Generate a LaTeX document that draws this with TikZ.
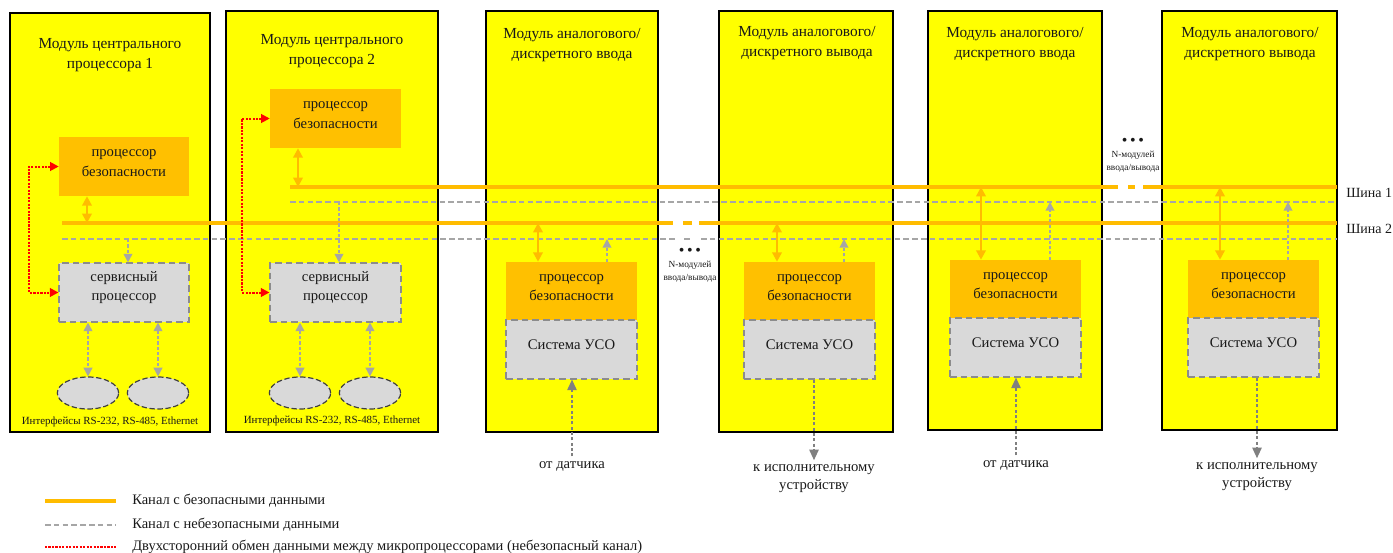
\documentclass[tikz,border=0pt]{standalone}
\usepackage{fontspec}
\setmainfont{Liberation Serif}
\usetikzlibrary{shapes.geometric, arrows.meta, positioning, fit, calc}
\definecolor{modyellow}{RGB}{255,255,0}
\definecolor{safeorange}{RGB}{255,192,0}
\definecolor{busorange}{RGB}{255,188,0}
\definecolor{boxgray}{RGB}{217,217,217}
\definecolor{edgegray}{RGB}{140,140,140}
\definecolor{busgray}{RGB}{166,166,166}
\definecolor{feedgray}{RGB}{128,128,128}
\definecolor{linkred}{RGB}{255,0,0}
\definecolor{txtdark}{RGB}{25,25,25}
\tikzset{
  module/.style={rectangle, draw=black, fill=modyellow, line width=0.8pt, inner sep=0pt},
  safebox/.style={rectangle, fill=safeorange, inner sep=0pt, align=center,
    text=txtdark, font=\fontsize{11}{14.5}\selectfont},
  servbox/.style={rectangle, draw=edgegray, fill=boxgray, line width=0.8pt,
    dash pattern=on 5pt off 3pt, inner sep=0pt, align=center,
    text=txtdark, font=\fontsize{11}{14.5}\selectfont},
  iface/.style={ellipse, draw=black!75, fill=boxgray, line width=0.9pt,
    dash pattern=on 4pt off 2pt, minimum width=46pt, minimum height=24pt},
  title/.style={align=center, text=txtdark, font=\fontsize{11.5}{15}\selectfont},
  buslabel/.style={anchor=west, inner sep=0pt, text=txtdark, font=\fontsize{10.5}{13}\selectfont},
  smalltxt/.style={align=center, text=txtdark, font=\fontsize{8.2}{10}\selectfont},
  dotstxt/.style={align=center, text=txtdark, font=\fontsize{7}{9.5}\selectfont},
  note/.style={align=center, text=txtdark, font=\fontsize{11}{13.5}\selectfont},
  legend/.style={anchor=west, text=txtdark, inner sep=0pt, font=\fontsize{10.9}{13}\selectfont},
  safebus/.style={draw=busorange, line width=2.4pt},
  openbus/.style={draw=busgray, line width=2.1pt, dash pattern=on 4.2pt off 2.4pt},
  safearrow/.style={{Triangle[length=7pt,width=7pt]}-{Triangle[length=7pt,width=7pt]},
    draw=busorange, line width=1.8pt},
  openarrow/.style={-{Triangle[length=6.5pt,width=6.5pt]}, draw=busgray, line width=1.3pt,
    dash pattern=on 2.4pt off 1.6pt},
  ifarrow/.style={{Triangle[length=6.5pt,width=6.5pt]}-{Triangle[length=6.5pt,width=6.5pt]},
    draw=busgray, line width=1.3pt, dash pattern=on 2.4pt off 1.6pt},
  feedarrow/.style={-{Triangle[length=8pt,width=7pt]}, draw=feedgray, line width=1.3pt,
    dash pattern=on 2.4pt off 1.6pt},
  redlink/.style={{Triangle[length=6.5pt,width=6.5pt]}-{Triangle[length=6.5pt,width=6.5pt]},
    draw=linkred, line width=1.5pt, dash pattern=on 1.6pt off 1pt}
}
\begin{document}
\begin{tikzpicture}[x=0.75pt, y=-0.75pt]
  \useasboundingbox (0,0) rectangle (1393,553);
  % Modules
  \node[module, fit={(10,13) (210,432)}] (m1) {};
  \node[module, fit={(226,11) (438,432)}] (m2) {};
  \node[module, fit={(486,11) (658,432)}] (m3) {};
  \node[module, fit={(719,11) (893,432)}] (m4) {};
  \node[module, fit={(928,11) (1102,430)}] (m5) {};
  \node[module, fit={(1162,11) (1337,430)}] (m6) {};
  % Module titles
  \node[title] (t1) at (110,55)  {Модуль центрального\\процессора 1};
  \node[title] (t2) at (332,51)  {Модуль центрального\\процессора 2};
  \node[title] (t3) at (572,45)  {Модуль аналогового/\\дискретного ввода};
  \node[title] (t4) at (807,43)  {Модуль аналогового/\\дискретного вывода};
  \node[title] (t5) at (1015,44) {Модуль аналогового/\\дискретного ввода};
  \node[title] (t6) at (1250,44) {Модуль аналогового/\\дискретного вывода};
  % Bus 1
  \draw[safebus] (290,187) -- (1118,187);
  \draw[safebus] (1128,187) -- (1135,187);
  \draw[safebus] (1143,187) -- (1337,187);
  \draw[openbus] (290,202) -- (1337,202);
  % Bus 2
  \draw[safebus] (62,223) -- (673,223);
  \draw[safebus] (683,223) -- (692,223);
  \draw[safebus] (699,223) -- (1337,223);
  \draw[openbus] (62,239) -- (675,239);
  \draw[openbus] (684,239) -- (692,239);
  \draw[openbus] (701,239) -- (1337,239);
  \node[buslabel] (sh1) at (1346,193) {Шина 1};
  \node[buslabel] (sh2) at (1346,229) {Шина 2};
  % N modules
  \node[dotstxt] (nm1) at (690,265) {{\fontsize{12}{9}\selectfont\textbullet\,\textbullet\,\textbullet}\\N-модулей\\ввода/вывода};
  \node[dotstxt] (nm2) at (1133,155) {{\fontsize{12}{9}\selectfont\textbullet\,\textbullet\,\textbullet}\\N-модулей\\ввода/вывода};
  % Safety processors
  \node[safebox, fit={(59,137) (189,196)}] (s1) {процессор\\безопасности};
  \node[safebox, fit={(270,89) (401,148)}] (s2) {процессор\\безопасности};
  \node[safebox, fit={(506,262) (637,320)}] (s3) {процессор\\безопасности};
  \node[safebox, fit={(744,262) (875,320)}] (s4) {процессор\\безопасности};
  \node[safebox, fit={(950,260) (1081,318)}] (s5) {процессор\\безопасности};
  \node[safebox, fit={(1188,260) (1319,318)}] (s6) {процессор\\безопасности};
  % Service processors and I/O systems
  \node[servbox, fit={(59,263) (189,322)}] (p1) {сервисный\\процессор};
  \node[servbox, fit={(270,263) (401,322)}] (p2) {сервисный\\процессор};
  \node[servbox, fit={(506,320) (637,379)}] (u3) {Система УСО};
  \node[servbox, fit={(744,320) (875,379)}] (u4) {Система УСО};
  \node[servbox, fit={(950,318) (1081,377)}] (u5) {Система УСО};
  \node[servbox, fit={(1188,318) (1319,377)}] (u6) {Система УСО};
  % Interfaces
  \node[iface] (e11) at (88,393) {};
  \node[iface] (e12) at (158,393) {};
  \node[iface] (e21) at (300,393) {};
  \node[iface] (e22) at (370,393) {};
  \node[smalltxt] (if1) at (110,422) {Интерфейсы RS-232, RS-485, Ethernet};
  \node[smalltxt] (if2) at (332,421) {Интерфейсы RS-232, RS-485, Ethernet};
  \draw[ifarrow] (p1.south -| e11.north) -- (e11.north);
  \draw[ifarrow] (p1.south -| e12.north) -- (e12.north);
  \draw[ifarrow] (p2.south -| e21.north) -- (e21.north);
  \draw[ifarrow] (p2.south -| e22.north) -- (e22.north);
  % Taps on the buses
  \coordinate (j1) at (87,223);
  \coordinate (g1) at (128,239);
  \coordinate (j2) at (298,187);
  \coordinate (g2) at (339,202);
  \coordinate (j3) at (538,223);
  \coordinate (g3) at (607,239);
  \coordinate (j4) at (777,223);
  \coordinate (g4) at (844,239);
  \coordinate (j5) at (981,187);
  \coordinate (g5) at (1050,202);
  \coordinate (j6) at (1220,187);
  \coordinate (g6) at (1288,202);
  \draw[safearrow] (s1.south -| j1) -- (j1);
  \draw[safearrow] (s2.south -| j2) -- (j2);
  \draw[safearrow] (s3.north -| j3) -- (j3);
  \draw[safearrow] (s4.north -| j4) -- (j4);
  \draw[safearrow] (s5.north -| j5) -- (j5);
  \draw[safearrow] (s6.north -| j6) -- (j6);
  \draw[openarrow] (g1) -- (p1.north -| g1);
  \draw[openarrow] (g2) -- (p2.north -| g2);
  \draw[openarrow] (s3.north -| g3) -- (g3);
  \draw[openarrow] (s4.north -| g4) -- (g4);
  \draw[openarrow] (s5.north -| g5) -- (g5);
  \draw[openarrow] (s6.north -| g6) -- (g6);
  % Links between processors
  \draw[redlink] (s1.west) -- ++(-30,0) |- (p1.west);
  \draw[redlink] (s2.west) -- ++(-28,0) |- (p2.west);
  % Field signals
  \node[note] (n3) at (572,466) {от датчика};
  \node[note] (n4) at (814,479) {к исполнительному\\устройству};
  \node[note] (n5) at (1016,465) {от датчика};
  \node[note] (n6) at (1257,477) {к исполнительному\\устройству};
  \draw[feedarrow] (n3.north) -- (n3.north |- u3.south);
  \draw[feedarrow] (u4.south -| n4.north) -- (n4.north);
  \draw[feedarrow] (n5.north) -- (n5.north |- u5.south);
  \draw[feedarrow] (u6.south -| n6.north) -- (n6.north);
  % Legend
  \draw[safebus] (45,501) -- (116,501);
  \draw[openbus, line width=1.8pt] (45,525) -- (116,525);
  \draw[draw=linkred, line width=1.5pt, dash pattern=on 1.6pt off 1pt] (45,547) -- (116,547);
  \node[legend] (lg1) at (132,501) {Канал с безопасными данными};
  \node[legend] (lg2) at (132,525) {Канал с небезопасными данными};
  \node[legend] (lg3) at (132,547) {Двухсторонний обмен данными между микропроцессорами (небезопасный канал)};
\end{tikzpicture}
\end{document}
